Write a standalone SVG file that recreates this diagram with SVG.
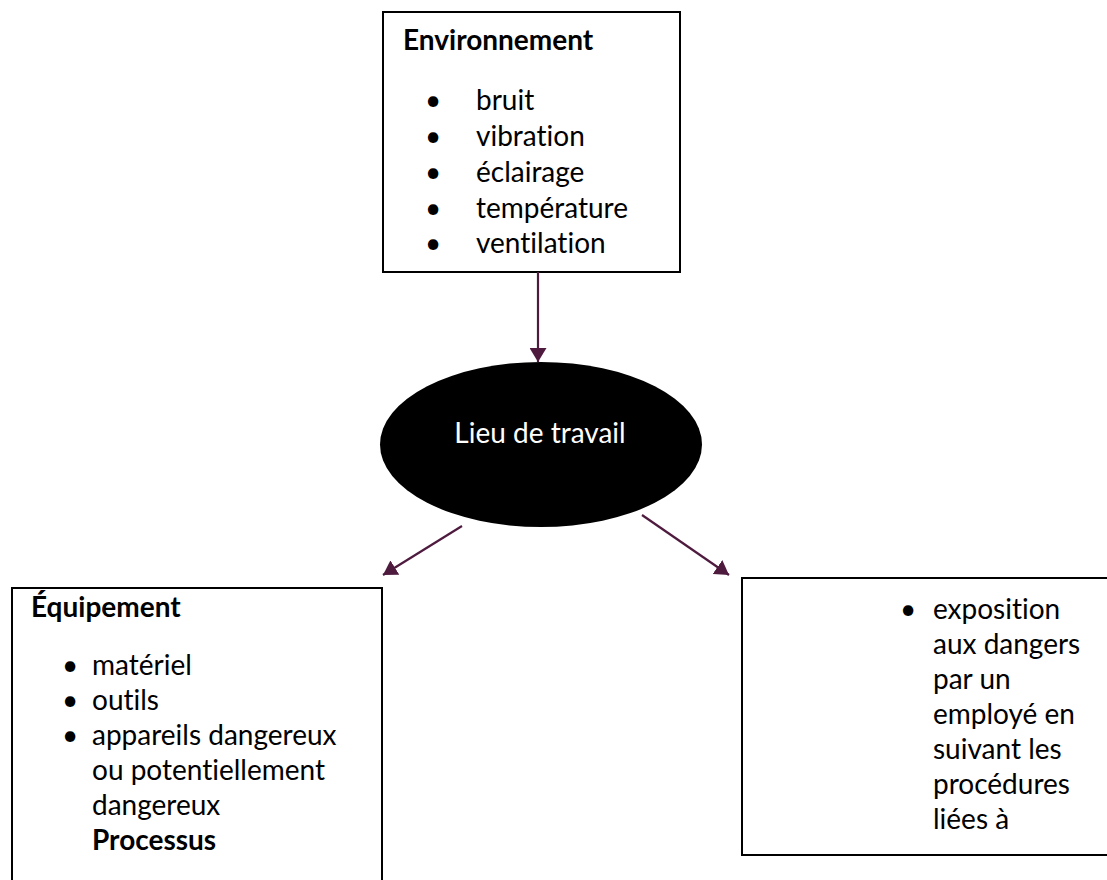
<svg xmlns="http://www.w3.org/2000/svg" width="1107" height="880" viewBox="0 0 1107 880">
<style>
  .box { fill: #ffffff; stroke: #000000; stroke-width: 2; }
  .t { font-family: Lato, "Open Sans", sans-serif; font-size: 28px; fill: #000000; font-variant-ligatures: none; font-feature-settings: "liga" 0, "dlig" 0; }
  .b { font-weight: bold; }
  .w { fill: #ffffff; }
  .conn { stroke: #4E1B3F; stroke-width: 2.2; fill: none; marker-end: url(#arrow); }
</style>
<defs>
  <marker id="arrow" markerUnits="userSpaceOnUse" markerWidth="17" markerHeight="17" refX="14" refY="8.5" orient="auto" viewBox="0 0 17 17">
    <path d="M0,0 L14,8.5 L0,17 z" fill="#4E1B3F"/>
  </marker>
</defs>
<rect width="1107" height="880" fill="#ffffff"/>

<g id="environnement">
  <rect class="box" x="383" y="12" width="297" height="260"/>
  <text class="t b" x="403" y="50">Environnement</text>
  <g class="t">
    <text x="425" y="110">•</text><text x="476" y="110">bruit</text>
    <text x="425" y="146">•</text><text x="476" y="146">vibration</text>
    <text x="425" y="182">•</text><text x="476" y="182">éclairage</text>
    <text x="425" y="218">•</text><text x="476" y="218">température</text>
    <text x="425" y="253">•</text><text x="476" y="253">ventilation</text>
  </g>
</g>

<g id="lieu">
  <ellipse cx="541" cy="444.5" rx="161" ry="82.5" fill="#000000"/>
  <text class="t w" x="540" y="443" text-anchor="middle">Lieu de travail</text>
</g>

<g id="equipement">
  <rect class="box" x="12" y="588" width="370" height="320"/>
  <text class="t b" x="31" y="617">Équipement</text>
  <g class="t">
    <text x="62" y="675">•</text><text x="92" y="675">matériel</text>
    <text x="62" y="710">•</text><text x="92" y="710">outils</text>
    <text x="62" y="745">•</text><text x="92" y="745">appareils dangereux</text>
    <text x="92" y="780">ou potentiellement</text>
    <text x="92" y="815">dangereux</text>
    <text class="b" x="92" y="850">Processus</text>
  </g>
</g>

<g id="exposition">
  <rect class="box" x="742" y="578" width="400" height="277"/>
  <g class="t">
    <text x="900" y="619">•</text><text x="933" y="619">exposition</text>
    <text x="933" y="654">aux dangers</text>
    <text x="933" y="689">par un</text>
    <text x="933" y="724">employé en</text>
    <text x="933" y="759">suivant les</text>
    <text x="933" y="794">procédures</text>
    <text x="933" y="829">liées à</text>
  </g>
</g>

<g id="connectors">
  <line class="conn" x1="538" y1="272" x2="538" y2="362"/>
  <line class="conn" x1="462" y1="526" x2="383" y2="575"/>
  <line class="conn" x1="642" y1="515" x2="729" y2="575"/>
</g>
</svg>
